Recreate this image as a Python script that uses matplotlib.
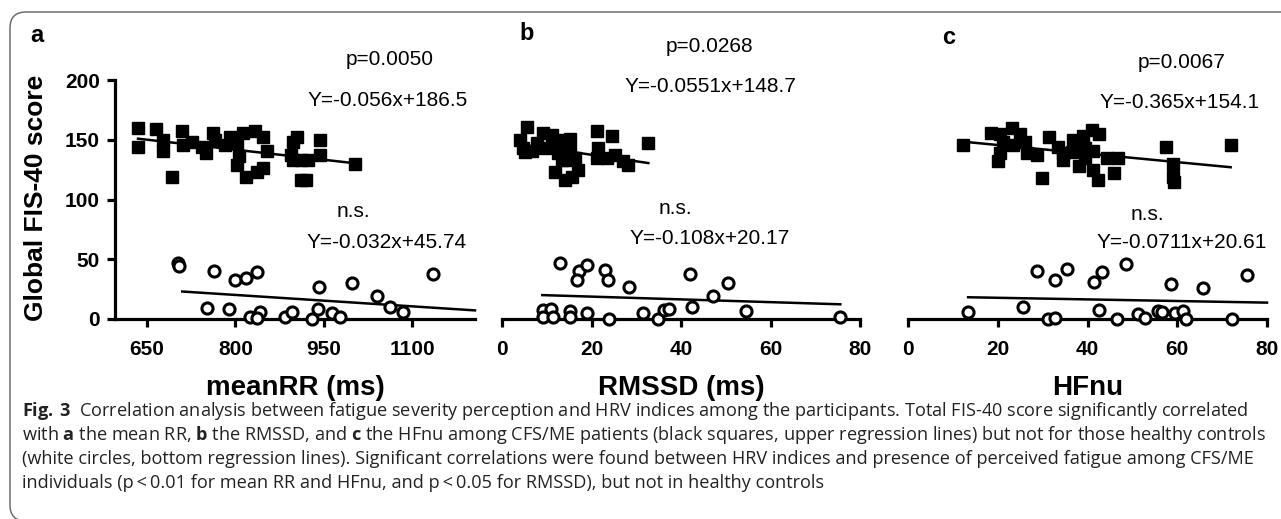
import matplotlib
matplotlib.use("Agg")
from matplotlib import pyplot as plt
from matplotlib.patches import FancyBboxPatch
from matplotlib.transforms import IdentityTransform

W, H = 1281, 519

# panel a: meanRR (ms)
a_cfs_x = [635, 635, 665, 677, 677, 692, 709, 711, 726, 743, 751, 762, 765, 782, 791, 802, 802, 806,
           813, 818, 833, 847, 836, 847, 853, 894, 897, 904, 897, 912, 923, 912, 919, 943, 943, 1003]
a_cfs_y = [160, 144, 159, 150, 141, 119, 157, 146, 148, 144, 139, 156, 150, 146, 152, 147, 129, 136,
           156, 119, 157, 152, 123, 126, 141, 137, 148, 152, 133, 133, 133, 116, 116, 150, 137, 130]
a_hc_x = [703, 705, 764, 799, 818, 836, 752, 789, 825, 841, 836, 884, 896, 930, 940, 941, 963, 977,
          997, 1040, 1062, 1084, 1135]
a_hc_y = [47, 44, 40, 33, 34, 39, 9, 8, 2, 6, 1, 2, 6, 0, 8, 27, 5, 2, 30, 19, 10, 6, 38]
a_fit_cfs = ([635, 1003], [150.9, 130.3])
a_fit_hc = ([710, 1206], [23.0, 7.2])

# panel b: RMSSD (ms)
b_cfs_x = [5.5, 4.0, 4.8, 6.6, 7.8, 9.2, 9.6, 11.1, 11.9, 13.0, 12.6, 13.4, 15.2, 15.2, 14.8, 16.4,
           11.9, 14.1, 15.6, 17.0, 21.2, 24.6, 21.5, 21.2, 23.5, 25.3, 27.1, 28.2, 32.7, 5.2]
b_cfs_y = [161, 150, 143, 141, 147, 156, 143, 154, 147, 150, 139, 133, 151, 141, 133, 135,
           123, 116, 119, 125, 157, 153, 143, 135, 135, 137, 132, 129, 147, 140]
b_hc_x = [13.0, 17.1, 19.1, 16.7, 23.1, 23.6, 28.3, 41.9, 50.5, 47.1, 42.5, 54.6, 75.6, 9.1, 10.9,
          9.1, 11.3, 15.2, 15.1, 19.0, 24.0, 31.5, 34.9, 36.1, 37.3]
b_hc_y = [47, 40, 45, 33, 41, 33, 27, 38, 30, 19, 10, 7, 1.5, 7.5, 8, 1.5, 1.5, 7, 1.5, 5, 0, 5, 0,
          7.5, 8]
b_fit_cfs = ([5.0, 32.7], [145.6, 130.5])
b_fit_hc = ([9.0, 75.6], [20.0, 12.3])

# panel c: HFnu
c_cfs_x = [12.2, 18.4, 20.4, 20.5, 20.1, 21.2, 23.1, 23.5, 25.0, 26.1, 26.5, 28.7, 31.5, 29.8, 33.5,
           34.6, 34.6, 36.5, 36.8, 38.9, 39.4, 40.9, 42.6, 41.3, 39.4, 38.1, 41.3, 42.4, 44.3, 46.9,
           45.8, 57.5, 59.1, 59.1, 59.3, 71.9]
c_cfs_y = [146, 156, 155, 139, 132, 148, 160, 146, 155, 148, 139, 137, 152, 118, 144,
           139, 133, 140, 150, 153, 143, 158, 155, 141, 135, 128, 125, 116, 135, 135,
           122, 144, 130, 119, 115, 146]
c_hc_x = [13.4, 25.7, 28.7, 32.8, 35.5, 31.3, 32.8, 41.5, 43.2, 48.6, 42.6, 46.5, 51.3, 52.8, 55.8,
          56.5, 58.5, 59.4, 61.3, 62.0, 65.7, 72.3, 75.5]
c_hc_y = [6, 10, 40, 33, 42, 0, 1, 31, 39, 46, 7.5, 0, 4, 1, 7, 6, 29, 5, 7, 0, 26, 0, 37]
c_fit_cfs = ([12.2, 71.9], [148.4, 127.0])
c_fit_hc = ([13.4, 80.0], [18.2, 13.7])

panel_letters = ["a", "b", "c"]
xlabels = ["meanRR (ms)", "RMSSD (ms)", "HFnu"]
xticks = [[650, 800, 950, 1100], [0, 20, 40, 60, 80], [0, 20, 40, 60, 80]]
yticks = [0, 50, 100, 150, 200]
p_texts = ["p=0.0050", "p=0.0268", "p=0.0067"]
cfs_eqs = ["Y=-0.056x+186.5", "Y=-0.0551x+148.7", "Y=-0.365x+154.1"]
hc_texts = ["n.s.", "n.s.", "n.s."]
hc_eqs = ["Y=-0.032x+45.74", "Y=-0.108x+20.17", "Y=-0.0711x+20.61"]

caption = [
    r"$\mathbf{Fig.\,3}$  Correlation analysis between fatigue severity perception and HRV indices among the participants. Total FIS-40 score significantly correlated",
    r"with $\mathbf{a}$ the mean RR, $\mathbf{b}$ the RMSSD, and $\mathbf{c}$ the HFnu among CFS/ME patients (black squares, upper regression lines) but not for those healthy controls",
    "(white circles, bottom regression lines). Significant correlations were found between HRV indices and presence of perceived fatigue among CFS/ME",
    "individuals (p\u2009<\u20090.01 for mean RR and HFnu, and p\u2009<\u20090.05 for RMSSD), but not in healthy controls",
]

plt.rcParams["font.family"] = ["Liberation Sans", "DejaVu Sans"]
plt.rcParams["mathtext.fontset"] = "custom"
plt.rcParams["mathtext.rm"] = "Open Sans"
plt.rcParams["mathtext.bf"] = "Open Sans:bold"


def fx(px):
  return px / W


def fy(py):
  return 1 - py / H


fig = plt.figure(figsize=(W / 100, H / 100), dpi=100)

# axes boxes in pixels: left, right
boxes = [(115, 475), (502, 860), (908, 1267)]
xlims = [(596, 1206), (0, 80), (0, 80)]
data = [
    (a_cfs_x, a_cfs_y, a_hc_x, a_hc_y, a_fit_cfs, a_fit_hc),
    (b_cfs_x, b_cfs_y, b_hc_x, b_hc_y, b_fit_cfs, b_fit_hc),
    (c_cfs_x, c_cfs_y, c_hc_x, c_hc_y, c_fit_cfs, c_fit_hc),
]
# text anchors in pixels (x center, y center)
p_pos = [(390, 60), (710, 47), (1182, 62)]
eq1_pos = [(388, 100), (710, 86), (1180, 102)]
ns_pos = [(353, 212), (675, 208), (1147, 214)]
eq2_pos = [(387, 243), (710, 238), (1182, 243)]
letter_pos = [(37, 36), (527, 33), (949, 38)]

for i in range(3):
  left, right = boxes[i]
  ax = fig.add_axes([fx(left), fy(319), (right - left) / W, 239 / H])
  cx, cy, hx, hy, fit1, fit2 = data[i]
  ax.plot(cx, cy, ls="none", marker="s", ms=8.5, mfc="black", mec="black", clip_on=False, zorder=3)
  ax.plot(hx, hy, ls="none", marker="o", ms=8, mfc="white", mec="black", mew=2.2, clip_on=False, zorder=4)
  ax.plot(fit1[0], fit1[1], color="black", lw=1.8, clip_on=False, zorder=2)
  ax.plot(fit2[0], fit2[1], color="black", lw=1.8, clip_on=False, zorder=2)
  ax.set_xlim(*xlims[i])
  ax.set_ylim(0, 200)
  ax.set_xticks(xticks[i])
  ax.spines["top"].set_visible(False)
  ax.spines["right"].set_visible(False)
  ax.spines["bottom"].set_linewidth(2.3)
  ax.spines["bottom"].set_capstyle("projecting")
  ax.tick_params(axis="x", direction="out", length=6, width=2.3, pad=9, labelsize=15)
  if i == 0:
    ax.set_yticks(yticks)
    ax.spines["left"].set_linewidth(2.3)
    ax.spines["left"].set_capstyle("projecting")
    ax.tick_params(axis="y", direction="out", length=6, width=2.3, pad=5, labelsize=15)
  else:
    ax.spines["left"].set_visible(False)
    ax.set_yticks([])
  for lbl in ax.get_xticklabels() + ax.get_yticklabels():
    lbl.set_fontweight("bold")
  ax.patch.set_visible(False)

  fig.text(fx((left + right) / 2), fy(395), xlabels[i], ha="center", va="baseline",
           fontsize=20, fontweight="bold")
  fig.text(fx(letter_pos[i][0]), fy(letter_pos[i][1]), panel_letters[i], ha="center", va="center",
           fontsize=17, fontweight="bold")
  fig.text(fx(p_pos[i][0]), fy(p_pos[i][1]), p_texts[i], ha="center", va="center", fontsize=15)
  fig.text(fx(eq1_pos[i][0]), fy(eq1_pos[i][1]), cfs_eqs[i], ha="center", va="center", fontsize=15)
  fig.text(fx(ns_pos[i][0]), fy(ns_pos[i][1]), hc_texts[i], ha="center", va="center", fontsize=15)
  fig.text(fx(eq2_pos[i][0]), fy(eq2_pos[i][1]), hc_eqs[i], ha="center", va="center", fontsize=15)

fig.text(fx(36), fy(198), "Global FIS-40 score", rotation=90, ha="center", va="center",
         fontsize=19, fontweight="bold")

for k, line in enumerate(caption):
  fig.text(fx(22), fy(416 + 24 * k), line, ha="left", va="baseline", fontsize=13.1,
           family=["Open Sans", "DejaVu Sans"], color="#222222")

border = FancyBboxPatch((10, -2), 1320, 509, boxstyle="round,pad=0,rounding_size=16",
                        transform=IdentityTransform(), fill=False, ec="#6e6e6e", lw=1.1)
fig.add_artist(border)

fig.savefig("out.png", dpi=100)
